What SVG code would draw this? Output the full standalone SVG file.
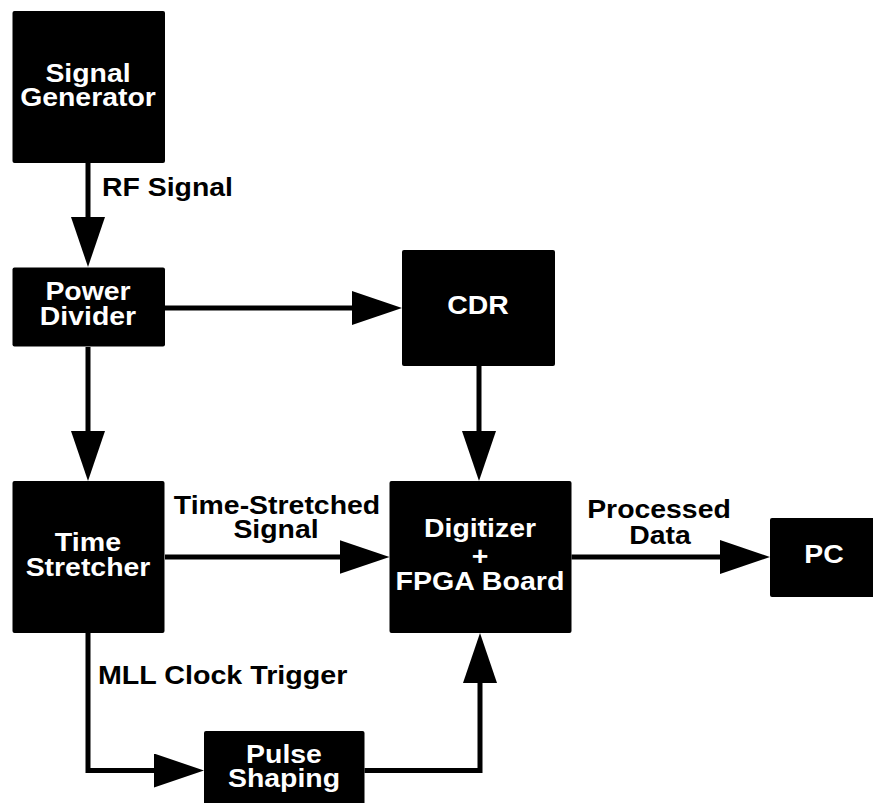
<svg xmlns="http://www.w3.org/2000/svg" width="873" height="803" viewBox="0 0 873 803">
<style>
.box{fill:#000;}
.wt{fill:#fff;font-family:"Liberation Sans",Arial,sans-serif;font-weight:bold;font-size:25px;text-anchor:middle;}
.lb{fill:#000;font-family:"Liberation Sans",Arial,sans-serif;font-weight:bold;font-size:25px;}
.mid{text-anchor:middle;}
.edge{fill:none;stroke:#000;stroke-width:5;stroke-linejoin:miter;marker-end:url(#ah);}
</style>
<defs>
<marker id="ah" markerUnits="userSpaceOnUse" markerWidth="50" markerHeight="34" refX="10" refY="17" orient="auto" viewBox="0 0 50 34">
<path d="M0,0 L50,17 L0,34 Z" fill="#000"/>
</marker>
</defs>
<rect width="873" height="803" fill="#fff"/>
<g id="connectors">
<path class="edge" d="M88,163 V227"/>
<path class="edge" d="M165,308 H362"/>
<path class="edge" d="M88,347 V441"/>
<path class="edge" d="M479,366 V441"/>
<path class="edge" d="M165,557 H349.5"/>
<path class="edge" d="M571.5,557 H730"/>
<path class="edge" d="M88,633 V770.5 H164"/>
<path class="edge" d="M364.5,770.5 H480 V673"/>
</g>
<g id="labels">
<text class="lb" x="102" y="196" textLength="131" lengthAdjust="spacingAndGlyphs">RF Signal</text>
<text class="lb mid" x="277" y="514" textLength="206.4" lengthAdjust="spacingAndGlyphs">Time-Stretched</text>
<text class="lb mid" x="276" y="538" textLength="85.2" lengthAdjust="spacingAndGlyphs">Signal</text>
<text class="lb mid" x="659" y="518" textLength="143.6" lengthAdjust="spacingAndGlyphs">Processed</text>
<text class="lb mid" x="660" y="544" textLength="61.5" lengthAdjust="spacingAndGlyphs">Data</text>
<text class="lb" x="98" y="684" textLength="249.3" lengthAdjust="spacingAndGlyphs">MLL Clock Trigger</text>
</g>
<g id="signal-generator">
<rect class="box" x="12.5" y="11" width="152.5" height="152" rx="2"/>
<text class="wt" x="88" y="82" textLength="85.2" lengthAdjust="spacingAndGlyphs">Signal</text>
<text class="wt" x="88" y="106" textLength="135.7" lengthAdjust="spacingAndGlyphs">Generator</text>
</g>
<g id="power-divider">
<rect class="box" x="12.5" y="267.5" width="152.5" height="79" rx="2"/>
<text class="wt" x="88" y="300" textLength="85.2" lengthAdjust="spacingAndGlyphs">Power</text>
<text class="wt" x="88" y="325" textLength="96.3" lengthAdjust="spacingAndGlyphs">Divider</text>
</g>
<g id="cdr">
<rect class="box" x="402" y="250" width="153" height="116" rx="2"/>
<text class="wt" x="478" y="314" textLength="61.5" lengthAdjust="spacingAndGlyphs">CDR</text>
</g>
<g id="time-stretcher">
<rect class="box" x="12.5" y="481" width="152" height="152" rx="2"/>
<text class="wt" x="88" y="551" textLength="66.3" lengthAdjust="spacingAndGlyphs">Time</text>
<text class="wt" x="88" y="576" textLength="124.7" lengthAdjust="spacingAndGlyphs">Stretcher</text>
</g>
<g id="digitizer">
<rect class="box" x="389.5" y="481" width="182" height="152" rx="2"/>
<text class="wt" x="480" y="537" textLength="112" lengthAdjust="spacingAndGlyphs">Digitizer</text>
<text class="wt" x="480" y="565" textLength="16.6" lengthAdjust="spacingAndGlyphs">+</text>
<text class="wt" x="480" y="590" textLength="168.8" lengthAdjust="spacingAndGlyphs">FPGA Board</text>
</g>
<g id="pc">
<rect class="box" x="770" y="518" width="108" height="79" rx="2"/>
<text class="wt" x="824" y="563" textLength="39.4" lengthAdjust="spacingAndGlyphs">PC</text>
</g>
<g id="pulse-shaping">
<rect class="box" x="204" y="731" width="160.5" height="80" rx="2"/>
<text class="wt" x="284" y="763" textLength="75.8" lengthAdjust="spacingAndGlyphs">Pulse</text>
<text class="wt" x="284" y="787" textLength="112" lengthAdjust="spacingAndGlyphs">Shaping</text>
</g>
</svg>
